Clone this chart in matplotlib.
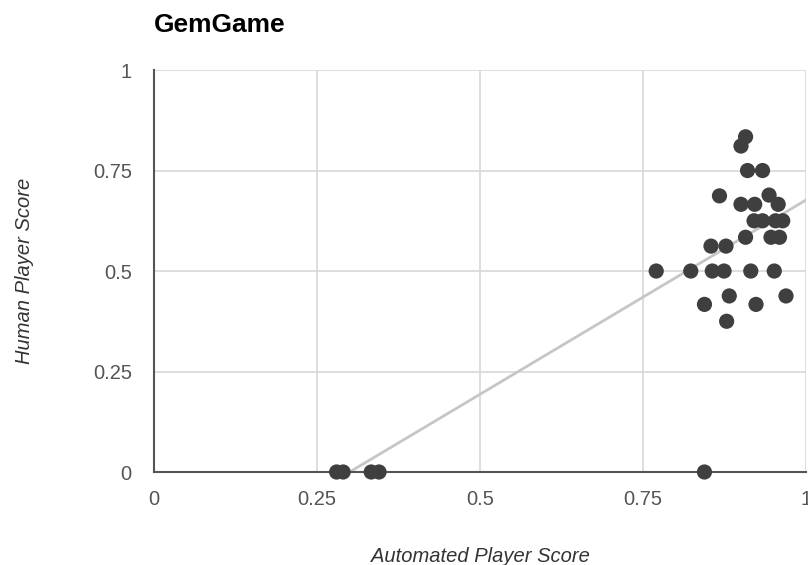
import numpy as np
import matplotlib
matplotlib.use("Agg")
import matplotlib.pyplot as plt

matplotlib.rc('font', **{'family': ['Liberation Sans', 'DejaVu Sans']})

# automated vs human score
automated = [0.907, 0.900, 0.910, 0.933, 0.867, 0.900, 0.921, 0.943, 0.957,
             0.920, 0.933, 0.953, 0.964, 0.907, 0.946, 0.959, 0.854, 0.877,
             0.770, 0.823, 0.856, 0.874, 0.915, 0.951, 0.882, 0.969, 0.844,
             0.923, 0.878, 0.844, 0.280, 0.290, 0.333, 0.345]
human = [0.834, 0.811, 0.750, 0.750, 0.687, 0.666, 0.666, 0.689, 0.666,
         0.625, 0.625, 0.625, 0.625, 0.584, 0.584, 0.584, 0.562, 0.562,
         0.500, 0.500, 0.500, 0.500, 0.500, 0.500, 0.438, 0.438, 0.417,
         0.417, 0.375, 0.0, 0.0, 0.0, 0.0, 0.0]
trend = [0.967, -0.290]   # slope, intercept of the trendline
ticks = [0, 0.25, 0.5, 0.75, 1]
tick_labels = ['0', '0.25', '0.5', '0.75', '1']

fig = plt.figure(figsize=(8.08, 5.65), dpi=100)
ax = fig.add_axes([0.1906, 0.1646, 0.8072, 0.7114])

xs = np.linspace(0, 1, 200)
ys = trend[0] * xs + trend[1]
ax.plot(xs, ys, color='#c6c6c6', lw=2, zorder=2)
ax.scatter(automated, human, s=120, color='#3f3f3f', edgecolors='none', zorder=3, clip_on=False)

ax.set_xlim(0, 1)
ax.set_ylim(0, 1)
ax.set_xticks(ticks)
ax.set_xticklabels(tick_labels)
ax.set_yticks(ticks)
ax.set_yticklabels(tick_labels)
ax.grid(True, color='#d8d8d8', lw=1.2, zorder=0)
ax.set_axisbelow(True)
ax.tick_params(axis='x', length=0, labelsize=14.5, labelcolor='#555555', pad=13)
ax.tick_params(axis='y', length=0, labelsize=14.5, labelcolor='#555555', pad=16)
for side in ['top', 'right']:
    ax.spines[side].set_visible(False)
for side in ['bottom', 'left']:
    ax.spines[side].set_color('#555555')
    ax.spines[side].set_linewidth(1.5)
    ax.spines[side].set_zorder(2.5)

ax.set_xlabel('Automated Player Score', style='italic', fontsize=14.5, color='#333333', labelpad=27)
ax.set_ylabel('Human Player Score', style='italic', fontsize=14.5, color='#333333', labelpad=42)
fig.text(0.191, 0.955, 'GemGame', fontsize=19, fontweight='bold', color='#000000', va='center')

fig.savefig('out.png', dpi=100)
